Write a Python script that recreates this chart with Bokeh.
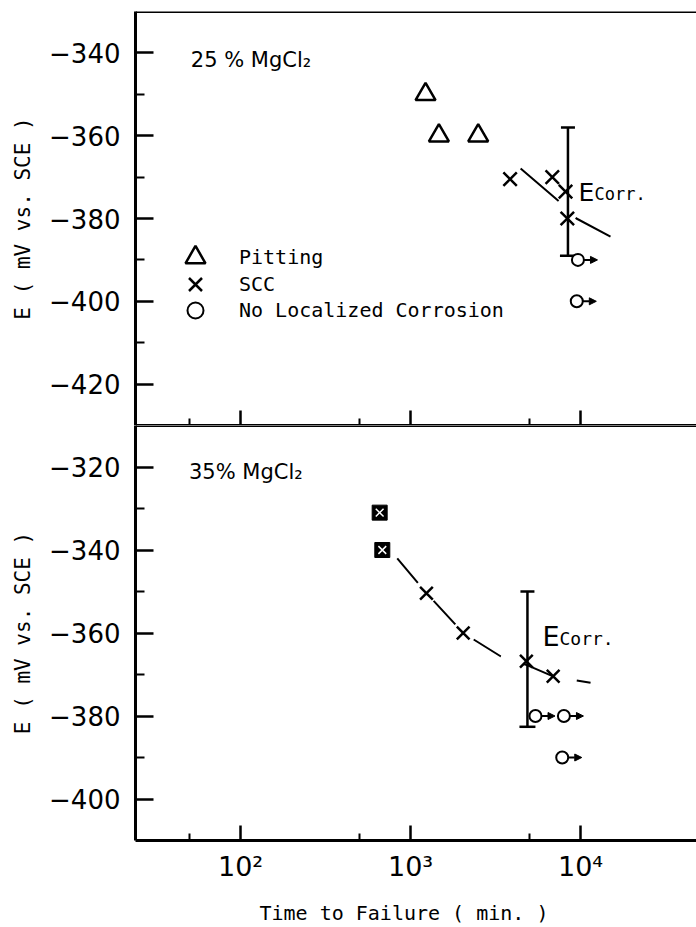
from bokeh.plotting import figure
from bokeh.models import (Range1d, FixedTicker, Span, Whisker, TeeHead, Arrow, NormalHead,
                          ColumnDataSource, Label, Legend, LegendItem)
from bokeh.layouts import column
from bokeh.embed import file_html
from bokeh.resources import INLINE

# ---------------- data ----------------
# x: time to failure (min), y: potential E (mV vs. SCE)
x_ticks = [100, 1000, 10000]
x_minor = [50, 500, 5000]
x_tick_labels = ["10²", "10³", "10⁴"]

# 25 % MgCl2 (top panel)
y25_ticks = [-420, -400, -380, -360, -340]
y25_minor = [-410, -390, -370, -350]
pit25_t = [1225, 1468, 2500]
pit25_E = [-350, -360, -360]
scc25_t = [3850, 6820, 8160, 8360]
scc25_E = [-370.5, -370, -373.5, -380]
nlc25_t = [9650, 9500]
nlc25_E = [-390, -400]
eb25_t = [8430]
eb25_hi = [-358]
eb25_lo = [-389]
curve25_t = [4440, 7450, 9460, 15000]
curve25_E = [-367.9, -375.8, -380, -384.4]

# 35 % MgCl2 (bottom panel)
y35_ticks = [-400, -380, -360, -340, -320]
y35_minor = [-390, -370, -350, -330]
sq35_t = [658, 682]
sq35_E = [-331, -340]
scc35_t = [1240, 2040, 4800, 6900]
scc35_E = [-350.4, -360, -366.8, -370.4]
nlc35_t = [5430, 7980, 7800]
nlc35_E = [-380, -380, -390]
eb35_t = [4870]
eb35_hi = [-350]
eb35_lo = [-382.6]
curve35_t = [835, 1242, 2042, 3383, 4880, 6935, 11450]
curve35_E = [-342, -350.4, -360, -365.6, -367.8, -370.5, -372]

legend_labels = ["Pitting", "SCC", "No Localized Corrosion"]

FONT = "DejaVu Sans"
MONO = "DejaVu Sans Mono"
XLO, XHI = 10 ** 1.382, 10 ** 4.682


def style_y(p, ticks, minor):
    ax = p.yaxis[0]
    ax.ticker = FixedTicker(ticks=ticks, minor_ticks=minor)
    ax.major_label_overrides = {t: "\u2212" + str(abs(t)) for t in ticks}
    ax.major_tick_in = 18
    ax.major_tick_out = 0
    ax.minor_tick_in = 9
    ax.minor_tick_out = 0
    ax.axis_line_width = 3
    ax.major_tick_line_width = 2.5
    ax.minor_tick_line_width = 2
    ax.major_label_text_font = FONT
    ax.major_label_text_font_size = "26px"
    ax.major_label_text_color = "black"
    ax.major_label_standoff = 15
    ax.axis_label = "E ( mV vs. SCE )"
    ax.axis_label_text_font = MONO
    ax.axis_label_text_font_size = "21px"
    ax.axis_label_text_font_style = "normal"
    ax.axis_label_text_color = "black"
    ax.axis_label_standoff = 11


def style_x(p):
    ax = p.xaxis[0]
    ax.ticker = FixedTicker(ticks=x_ticks, minor_ticks=x_minor)
    ax.major_tick_in = 15
    ax.major_tick_out = 0
    ax.minor_tick_in = 7
    ax.minor_tick_out = 0
    ax.axis_line_width = 3
    ax.major_tick_line_width = 2.5
    ax.minor_tick_line_width = 2
    return ax


def base_fig(height, yr, mbt, mbb):
    p = figure(width=696, height=height, x_axis_type="log",
               x_range=Range1d(XLO, XHI), y_range=Range1d(*yr),
               output_backend="svg", toolbar_location=None,
               min_border_left=135, min_border_right=0,
               min_border_top=mbt, min_border_bottom=mbb)
    p.outline_line_color = None
    p.grid.visible = False
    p.background_fill_color = "white"
    p.border_fill_color = "white"
    return p


def add_nlc(p, t, E):
    r = p.scatter(t, E, marker="circle", size=12, fill_color="white",
                  line_color="black", line_width=2)
    src = ColumnDataSource(dict(x0=[v * 10 ** 0.035 for v in t],
                                x1=[v * 10 ** 0.115 for v in t], y=E))
    p.add_layout(Arrow(end=NormalHead(size=7, fill_color="black", line_color="black",
                                      line_width=1),
                       x_start="x0", y_start="y", x_end="x1", y_end="y",
                       source=src, line_width=2, line_color="black"))
    return r


def add_ecorr(p, t, hi, lo, x, y, big, small, off):
    src = ColumnDataSource(dict(base=t, upper=hi, lower=lo))
    p.add_layout(Whisker(base="base", upper="upper", lower="lower", source=src,
                         dimension="height", line_width=2.5, line_color="black",
                         upper_head=TeeHead(size=14, line_width=2.5, line_color="black"),
                         lower_head=TeeHead(size=16, line_width=2.5, line_color="black")))
    p.add_layout(Label(x=x, y=y, text="E", text_font=FONT, text_font_size=big,
                       text_baseline="alphabetic", text_color="black"))
    p.add_layout(Label(x=x, y=y, x_offset=off, y_offset=-2, text="Corr.", text_font=MONO,
                       text_font_size=small, text_baseline="alphabetic",
                       text_color="black"))


# ---------------- top panel: 25 % MgCl2 ----------------
p1 = base_fig(425, (-430, -330), 11, 0)
style_y(p1, y25_ticks, y25_minor)
ax1 = style_x(p1)
ax1.major_label_overrides = {t: "" for t in x_ticks}
ax1.major_label_text_font_size = "1px"
ax1.major_label_text_color = None
ax1.major_label_standoff = 0
p1.add_layout(Span(location=-330, dimension="width", line_width=3, line_color="black"))

r_pit = p1.scatter(pit25_t, pit25_E, marker="triangle", size=20, fill_color=None,
                   line_color="black", line_width=2.5)
r_scc = p1.scatter(scc25_t, scc25_E, marker="x", size=19, line_color="black",
                   line_width=2.5)
p1.line(curve25_t, curve25_E, line_width=2, line_color="black", line_dash="50 24")
r_nlc = add_nlc(p1, nlc25_t, nlc25_E)
add_ecorr(p1, eb25_t, eb25_hi, eb25_lo, 9730, -373.6, "25px", "17px", 16)
p1.add_layout(Label(x=51, y=-341.7, text="25 % MgCl₂", text_font=FONT,
                    text_font_size="21px", text_baseline="alphabetic", text_color="black"))

# one legend per key so that each key can keep the reference's row pitch
for label, rend, glyph, loc, standoff in zip(
        legend_labels, [r_pit, r_scc, r_nlc], [50, 46, 40],
        [(35, 143), (37, 118), (40, 95)], [19, 21, 24]):
    p1.add_layout(Legend(items=[LegendItem(label=label, renderers=[rend])],
                         location=loc, glyph_width=glyph, glyph_height=glyph,
                         padding=0, margin=0, border_line_color=None,
                         background_fill_alpha=0, label_text_font=MONO,
                         label_text_font_size="20px", label_standoff=standoff,
                         label_text_color="black"))

# ---------------- bottom panel: 35 % MgCl2 ----------------
p2 = base_fig(502, (-410, -310), 0, 86)
style_y(p2, y35_ticks, y35_minor)
p2.add_layout(Span(location=-310, dimension="width", line_width=3, line_color="black"))
ax2 = style_x(p2)
ax2.major_label_overrides = dict(zip(x_ticks, x_tick_labels))
ax2.major_label_text_font = FONT
ax2.major_label_text_font_size = "27px"
ax2.major_label_text_color = "black"
ax2.major_label_standoff = 10
ax2.axis_label = "Time to Failure ( min. )\u00a0\u00a0"
ax2.axis_label_text_font = MONO
ax2.axis_label_text_font_size = "20px"
ax2.axis_label_text_font_style = "normal"
ax2.axis_label_text_color = "black"
ax2.axis_label_standoff = 16

p2.scatter(sq35_t, sq35_E, marker="square", size=15, fill_color="black",
           line_color="black", line_width=1)
p2.scatter(sq35_t, sq35_E, marker="x", size=11, line_color="white", line_width=1.5)
p2.scatter(scc35_t, scc35_E, marker="x", size=18, line_color="black", line_width=2.5)
p2.line(curve35_t, curve35_E, line_width=2, line_color="black", line_dash="32 24")
add_nlc(p2, nlc35_t, nlc35_E)
add_ecorr(p2, eb35_t, eb35_hi, eb35_lo, 5970, -360.9, "27px", "18px", 17)
p2.add_layout(Label(x=49.7, y=-321.3, text="35% MgCl₂", text_font=FONT,
                    text_font_size="21px", text_baseline="alphabetic", text_color="black"))

layout = column(p1, p2, spacing=0)
open("out.html", "w").write(file_html(layout, INLINE))
